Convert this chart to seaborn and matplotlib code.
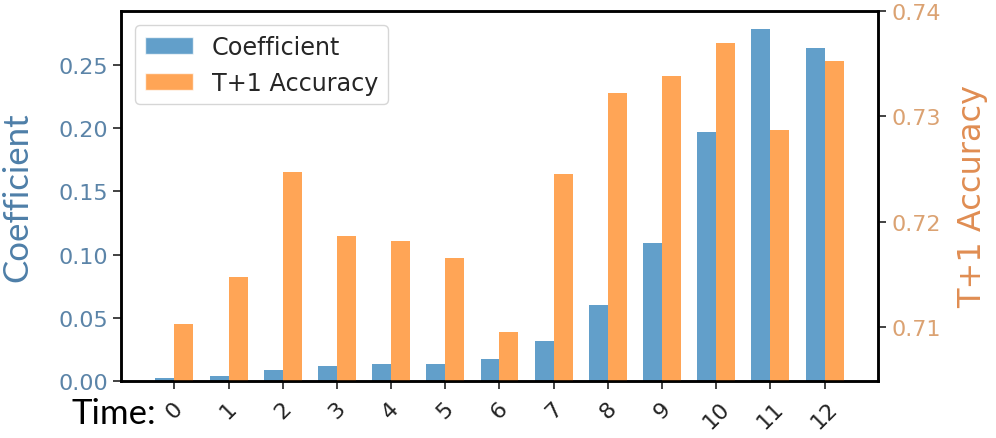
import numpy as np
import pandas as pd
import matplotlib

matplotlib.use("Agg")
import matplotlib.pyplot as plt
from matplotlib.patches import Patch
import seaborn as sns

# values
times = list(range(13))
coefficient = [0.0019, 0.0040, 0.0082, 0.0116, 0.0135, 0.0135, 0.0172,
               0.0315, 0.0602, 0.1089, 0.1968, 0.2787, 0.2634]
accuracy = [0.7103, 0.7148, 0.7247, 0.7187, 0.7182, 0.7166, 0.7096,
            0.7245, 0.7322, 0.7338, 0.7369, 0.7287, 0.7352]
series = ["Coefficient", "T+1 Accuracy"]
coef_ticks = [0.00, 0.05, 0.10, 0.15, 0.20, 0.25]
acc_ticks = [0.71, 0.72, 0.73, 0.74]

blue = "#1f77b4"
orange = "#ff7f0e"
alpha = 0.7

df = pd.DataFrame({
    "Time": times * 2,
    "metric": [series[0]] * len(times) + [series[1]] * len(times),
    "value": coefficient + accuracy,
})

sns.set_theme(style="ticks")
plt.rcParams["font.family"] = ["DejaVu Sans"]

fig = plt.figure(figsize=(9.96, 4.39), dpi=100)
ax1 = fig.add_axes([0.1215, 0.1305, 0.76, 0.8428])
ax2 = ax1.twinx()

# left axis: coefficient only (other slot left empty so bars dodge)
d1 = df.copy()
d1.loc[d1["metric"] != series[0], "value"] = np.nan
sns.barplot(data=d1, x="Time", y="value", hue="metric", hue_order=series,
            palette=[blue, orange], saturation=1, dodge=True, width=0.7,
            errorbar=None, alpha=alpha, linewidth=0, legend=False, ax=ax1)

d2 = df.copy()
d2.loc[d2["metric"] != series[1], "value"] = np.nan
sns.barplot(data=d2, x="Time", y="value", hue="metric", hue_order=series,
            palette=[blue, orange], saturation=1, dodge=True, width=0.7,
            errorbar=None, alpha=alpha, linewidth=0, legend=False, ax=ax2)

ax1.set_xlim(-0.985, 12.985)
ax1.set_ylim(0, 0.2932)
ax2.set_ylim(0.70494, 0.74)

ax1.set_yticks(coef_ticks)
ax1.set_yticklabels([f"{t:.2f}" for t in coef_ticks])
ax2.set_yticks(acc_ticks)
ax2.set_yticklabels([f"{t:.2f}" for t in acc_ticks])

ax1.set_xticks(times)
ax1.set_xticklabels([str(t) for t in times], rotation=45, ha="center")
ax1.set_xlabel("")
ax2.set_xlabel("")

ax1.tick_params(axis="y", labelsize=16, labelcolor="#5b84a8", length=6,
                width=1.2, color="#222")
ax1.tick_params(axis="x", labelsize=16, labelcolor="#222", length=6,
                width=1.2, color="#222", pad=6)
ax2.tick_params(axis="y", labelsize=16, labelcolor="#dba272", length=6,
                width=1.2, color="#222")

ax1.set_ylabel("Coefficient", fontsize=25, color="#4e7fa8", family="Lato",
               labelpad=18)
ax2.set_ylabel("T+1 Accuracy", fontsize=23, color="#e08d52", labelpad=12)

for ax in (ax1, ax2):
    for sp in ax.spines.values():
        sp.set_visible(True)
        sp.set_color("black")
        sp.set_linewidth(1.8)

handles = [Patch(facecolor=blue, alpha=alpha), Patch(facecolor=orange, alpha=alpha)]
ax2.legend(handles, series, loc="upper left", fontsize=17.2, frameon=True,
           framealpha=0.8, edgecolor="#cccccc", borderaxespad=0.6)

fig.text(0.072, 0.035, "Time:", fontsize=25, family="Lato", color="black",
         va="baseline", ha="left")

fig.savefig("out.png", dpi=100)
